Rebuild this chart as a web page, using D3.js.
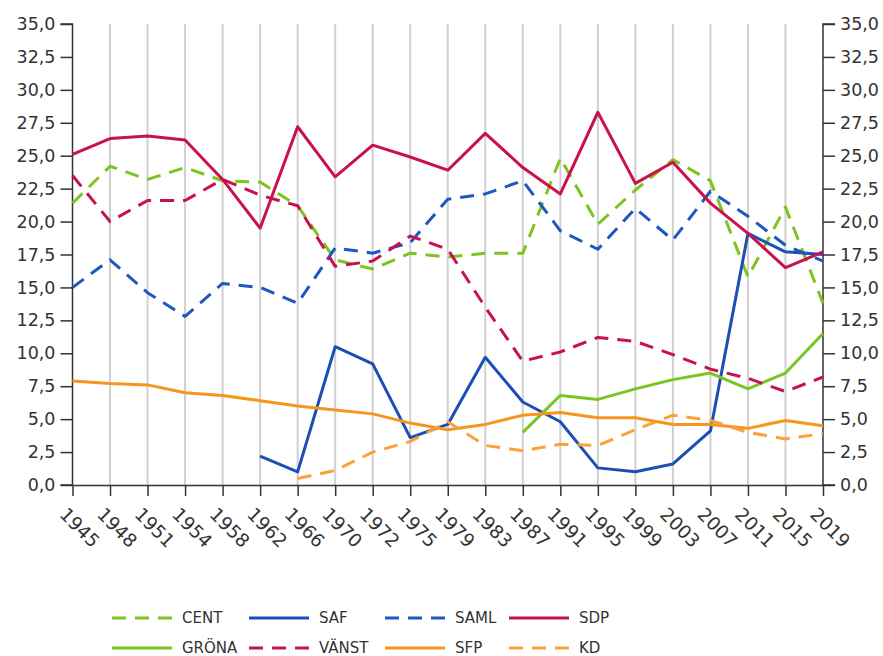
<!DOCTYPE html>
<html lang="sv">
<head>
  <meta charset="UTF-8">
  <title>Riksdagsval</title>
  <style>
    *{ margin:0; padding:0; }
    body{ background:#fff; }
    text{ font-family: "DejaVu Sans", Verdana, sans-serif; fill:#333; }
  </style>
  <script src="https://cdn.jsdelivr.net/npm/d3@7/dist/d3.min.js"></script>
</head>
<body>
  <svg id="mainsvg"></svg>
  <script>
    const years = ['1945','1948','1951','1954','1958','1962','1966','1970','1972','1975','1979',
                   '1983','1987','1991','1995','1999','2003','2007','2011','2015','2019']
    const yTicks = [0,2.5,5,7.5,10,12.5,15,17.5,20,22.5,25,27.5,30,32.5,35]

    // null = partiet ställde inte upp
    const cent  = [21.4,24.2,23.2,24.1,23.1,23.0,21.2,17.1,16.4,17.6,17.3,17.6,17.6,24.8,19.8,22.4,24.7,23.1,15.8,21.1,13.8]
    const saf   = [null,null,null,null,null,2.2,1.0,10.5,9.2,3.6,4.6,9.7,6.3,4.8,1.3,1.0,1.6,4.1,19.1,17.7,17.5]
    const saml  = [15.0,17.1,14.6,12.8,15.3,15.0,13.8,18.0,17.6,18.4,21.7,22.1,23.1,19.3,17.9,21.0,18.6,22.3,20.4,18.2,17.0]
    const sdp   = [25.1,26.3,26.5,26.2,23.2,19.5,27.2,23.4,25.8,24.9,23.9,26.7,24.1,22.1,28.3,22.9,24.5,21.4,19.1,16.5,17.7]
    const grona = [null,null,null,null,null,null,null,null,null,null,null,null,4.0,6.8,6.5,7.3,8.0,8.5,7.3,8.5,11.5]
    const vanst = [23.5,20.0,21.6,21.6,23.2,22.0,21.2,16.6,17.0,18.9,17.9,13.5,9.4,10.1,11.2,10.9,9.9,8.8,8.1,7.1,8.2]
    const sfp   = [7.9,7.7,7.6,7.0,6.8,6.4,6.0,5.7,5.4,4.7,4.2,4.6,5.3,5.5,5.1,5.1,4.6,4.6,4.3,4.9,4.5]
    const kd    = [null,null,null,null,null,null,0.5,1.1,2.5,3.3,4.8,3.0,2.6,3.1,3.0,4.2,5.3,4.9,4.0,3.5,3.9]

    const series = [
      {name:'CENT',  values:cent,  color:'#7cc520', dash:'14,9'},
      {name:'SAF',   values:saf,   color:'#1b4fb5', dash:null},
      {name:'SAML',  values:saml,  color:'#1d57c2', dash:'14,9'},
      {name:'SDP',   values:sdp,   color:'#c8114e', dash:null},
      {name:'GRÖNA', values:grona, color:'#7cc520', dash:null},
      {name:'VÄNST', values:vanst, color:'#c8114e', dash:'14,9'},
      {name:'SFP',   values:sfp,   color:'#f7961f', dash:null},
      {name:'KD',    values:kd,    color:'#f9a23a', dash:'14,9'}
    ]

    const width = 883, height = 656
    const margin = {left:72.5, top:24, right:60, bottom:171}
    const svg = d3.select('#mainsvg').attr('width',width).attr('height',height)

    const x = d3.scalePoint().domain(years).range([margin.left, width - margin.right])
    const y = d3.scaleLinear().domain([0,35]).range([height - margin.bottom, margin.top])
    const fmt = d => d3.format('.1f')(d).replace('.', ',')

    // vertikala stödlinjer
    svg.append('g').selectAll('line').data(years.slice(1, -1)).join('line')
      .attr('x1', d => x(d)).attr('x2', d => x(d))
      .attr('y1', y(35)).attr('y2', y(0))
      .attr('stroke', '#d0d0d0').attr('stroke-width', 2)

    const gL = svg.append('g').attr('transform', `translate(${margin.left},0)`)
      .call(d3.axisLeft(y).tickValues(yTicks).tickFormat(fmt).tickSize(12).tickPadding(5))
    const gR = svg.append('g').attr('transform', `translate(${width - margin.right},0)`)
      .call(d3.axisRight(y).tickValues(yTicks).tickFormat(fmt).tickSize(12).tickPadding(5))
    const gX = svg.append('g').attr('transform', `translate(0,${y(0)})`)
      .call(d3.axisBottom(x).tickSize(11).tickSizeOuter(0))

    ;[gL, gR, gX].forEach(g => {
      g.select('.domain').attr('stroke', '#333').attr('stroke-width', 1.5)
      g.selectAll('.tick line').attr('stroke', '#333').attr('stroke-width', 1.5)
      g.selectAll('text').attr('font-size', 17.5).attr('fill', '#333')
        .attr('font-family', '"DejaVu Sans", Verdana, sans-serif')
    })
    gL.select('.domain').attr('d', `M-12,${y(35)}H0V${y(0)}H-12`)
    gR.select('.domain').attr('d', `M12,${y(35)}H0V${y(0)}H12`)

    gX.selectAll('.tick text')
      .attr('font-size', 18.5)
      .attr('text-anchor', 'start')
      .attr('transform', 'translate(-10,26) rotate(45)')
      .attr('dy', '0.35em').attr('y', 0).attr('x', 0)

    const line = d3.line()
      .defined(d => d[1] != null)
      .x(d => x(d[0])).y(d => y(d[1]))

    svg.append('g').selectAll('path').data(series).join('path')
      .attr('fill', 'none')
      .attr('stroke', d => d.color)
      .attr('stroke-width', 3)
      .attr('stroke-dasharray', d => d.dash)
      .attr('stroke-linejoin', 'round')
      .attr('d', d => line(years.map((yr, i) => [yr, d.values[i]])))

    // förklaring
    const colX = [112, 249, 385, 509]
    const rowY = [618, 648]
    const leg = svg.append('g').selectAll('g').data(series).join('g')
      .attr('transform', (d, i) => `translate(${colX[i % 4]},${rowY[Math.floor(i / 4)]})`)
    leg.append('line')
      .attr('x1', 0).attr('x2', 60).attr('y1', 0).attr('y2', 0)
      .attr('stroke', d => d.color).attr('stroke-width', 3)
      .attr('stroke-dasharray', d => d.dash ? '14,9' : null)
    leg.append('text')
      .attr('x', 70).attr('y', 0).attr('dy', '0.35em')
      .attr('font-size', 15)
      .text(d => d.name)
  </script>
</body>
</html>
